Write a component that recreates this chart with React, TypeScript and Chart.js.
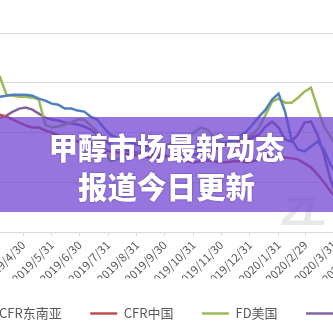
import React, { useEffect, useRef } from 'react';
import { Chart, LineController, LineElement, PointElement, LinearScale, Legend } from 'chart.js';

Chart.register(LineController, LineElement, PointElement, LinearScale, Legend);
Chart.defaults.font.family = "'Noto Sans CJK SC', 'Noto Sans', sans-serif";

// ---- data ----
const seriesNames = ['CFR东南亚', 'CFR中国', 'FD美国', 'FOB鹿特丹'];
const seriesColors = ['#4F81BD', '#C0504D', '#9BBB59', '#8064A2'];

// weekly observations starting at this date
const firstWeek = '2019/3/22';

const cfrSoutheastAsia = [235, 236, 236, 237, 238, 238, 238, 237, 234, 232, 229, 228, 224, 224, 222, 221, 216, 213, 205, 198, 195, 193, 190, 188, 187, 186, 185, 186, 185, 183, 182, 184, 183, 185, 187, 186, 188, 190, 193, 196, 201, 208, 216, 223, 233, 239, 221, 193, 183, 181, 186, 191, 183, 168, 158, 153];
const cfrChina = [221, 220, 218, 216, 213, 210, 207, 205, 205, 202, 200, 197, 195, 193, 191, 190, 188, 186, 183, 181, 180, 179, 178, 177, 176, 175, 175, 176, 175, 173, 172, 171, 170, 171, 172, 171, 170, 170, 171, 171, 170, 171, 173, 176, 177, 176, 175, 174, 173, 169, 165, 158, 150, 141, 133, 128];
const fdUS = [256, 256, 256, 238, 237, 236, 236, 235, 233, 208, 205, 206, 208, 210, 213, 213, 207, 201, 183, 171, 173, 175, 176, 178, 181, 183, 185, 187, 188, 190, 193, 196, 200, 205, 203, 195, 191, 190, 191, 193, 195, 198, 205, 218, 231, 234, 230, 230, 235, 241, 245, 225, 206, 196, 185, 178];
const fobRotterdam = [211, 213, 215, 217, 221, 224, 225, 223, 219, 215, 213, 212, 210, 209, 208, 206, 203, 198, 193, 188, 185, 183, 181, 180, 179, 178, 177, 178, 176, 175, 176, 177, 178, 179, 181, 183, 185, 188, 190, 191, 193, 195, 198, 206, 211, 205, 193, 191, 198, 210, 211, 198, 178, 153, 135, 128];
const seriesValues = [cfrSoutheastAsia, cfrChina, fdUS, fobRotterdam];

const axisStart = '2019/1/27';
const axisEnd = '2020/9/23';
const monthTicks = ['2019/3/31', '2019/4/30', '2019/5/31', '2019/6/30', '2019/7/31', '2019/8/31', '2019/9/30', '2019/10/31', '2019/11/30', '2019/12/31', '2020/1/31', '2020/2/29', '2020/3/31', '2020/4/30', '2020/5/31', '2020/6/30'];

const yMin = 100;
const yMax = 300;
const yStep = 50;

const bannerLines = ['甲醇市场最新动态', '报道今日更新'];
const watermark = 'ZL';

function dayIndex(s: string): number {
  const [y, m, d] = s.split('/').map(Number);
  return (Date.UTC(y, m - 1, d) - Date.UTC(2019, 0, 1)) / 86400000;
}

export default function App() {
  const ref = useRef<HTMLCanvasElement>(null);

  useEffect(() => {
    if (!ref.current) return;
    const start = dayIndex(firstWeek);
    const tickValues = monthTicks.map(dayIndex);
    const labelOf = new Map<number, string>(tickValues.map((v, i) => [v, monthTicks[i]]));

    const chart = new Chart(ref.current, {
      type: 'line',
      data: {
        datasets: seriesValues.map((vals, i) => ({
          label: seriesNames[i],
          data: vals.map((v, j) => ({ x: start + 7 * j, y: v })),
          borderColor: seriesColors[i],
          backgroundColor: seriesColors[i],
          borderWidth: 2.5,
          pointRadius: 0,
          tension: 0,
          fill: false,
        })),
      },
      options: {
        responsive: false,
        animation: false,
        events: [],
        layout: { padding: { top: 33, left: 0, right: 0, bottom: 0 } },
        plugins: {
          legend: {
            position: 'bottom',
            align: 'start',
            labels: {
              usePointStyle: true,
              pointStyle: 'line',
              pointStyleWidth: 27,
              padding: 28.5,
              color: '#595959',
              font: { size: 13 },
            },
          },
        },
        scales: {
          x: {
            type: 'linear',
            min: dayIndex(axisStart),
            max: dayIndex(axisEnd),
            afterBuildTicks: (s: any) => {
              s.ticks = tickValues.map((v) => ({ value: v }));
            },
            afterFit: (s: any) => {
              s.height = 46.5;
              s.paddingLeft = 0;
              s.paddingRight = 0;
            },
            grid: { drawOnChartArea: false, tickLength: 4, color: '#d9d9d9' },
            border: { display: false },
            ticks: {
              autoSkip: false,
              minRotation: 45,
              maxRotation: 45,
              padding: 2,
              color: '#595959',
              font: { size: 11.5 },
              callback: (v: any) => labelOf.get(Number(v)) ?? '',
            },
          },
          y: {
            type: 'linear',
            position: 'right',
            min: yMin,
            max: yMax,
            afterFit: (s: any) => {
              s.width = 0;
              s.paddingTop = 0;
              s.paddingBottom = 0;
            },
            ticks: { stepSize: yStep, display: false },
            grid: { color: '#d9d9d9', drawTicks: false },
            border: { display: false },
          },
        },
      },
    } as any);
    return () => chart.destroy();
  }, []);

  return (
    <div
      style={{
        position: 'fixed',
        left: 0,
        top: 0,
        width: 333,
        height: 333,
        overflow: 'hidden',
        background: '#ffffff',
      }}
    >
      <div
        style={{
          position: 'absolute',
          left: 282,
          top: 191,
          fontFamily: "'Liberation Sans', sans-serif",
          fontSize: 40,
          lineHeight: '40px',
          fontWeight: 900,
          fontStyle: 'italic',
          letterSpacing: -4,
          color: '#e8e8e8',
        }}
      >
        {watermark}
      </div>
      <canvas
        ref={ref}
        width={560}
        height={330}
        style={{ position: 'absolute', left: -63, top: 0, width: 560, height: 330 }}
      />
      <div
        style={{
          position: 'absolute',
          left: 0,
          top: 117,
          width: 333,
          height: 95,
          boxSizing: 'border-box',
          paddingTop: 10,
          background: 'rgba(110, 64, 210, 0.72)',
          color: '#ffffff',
          textAlign: 'center',
          fontFamily: "'Noto Sans CJK SC', sans-serif",
          fontWeight: 900,
          fontSize: 29.5,
          lineHeight: '39px',
          textShadow: '0 0 2px rgba(40, 20, 90, 0.55)',
        }}
      >
        {bannerLines.map((t) => (
          <div key={t}>{t}</div>
        ))}
      </div>
    </div>
  );
}
